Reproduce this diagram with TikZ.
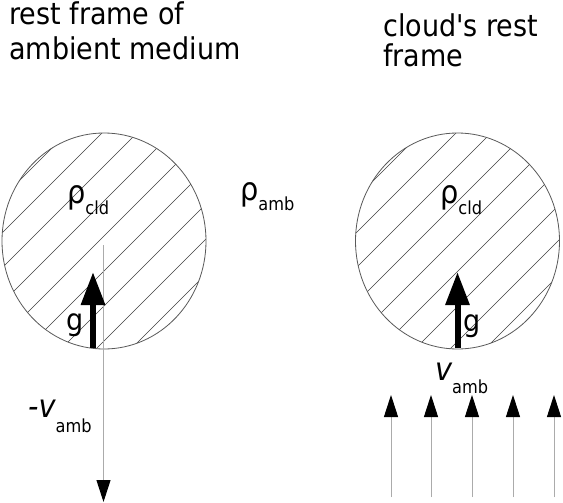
\documentclass[tikz,border=0pt]{standalone}
\usepackage{fontspec}
\setmainfont{DejaVu Sans}[FakeStretch=0.9, Ligatures=TeXOff]
\usetikzlibrary{arrows.meta,shapes.geometric}
\newcommand\sublab[3]{{\fontsize{32}{32}\selectfont #1}\raisebox{-#3}{\fontsize{18}{18}\selectfont #2}}
\begin{document}
\begin{tikzpicture}[x=1pt,y=-1pt,
  title/.style={anchor=base west, inner sep=0, font=\fontsize{30}{35}\selectfont},
  lab/.style={anchor=base west, inner sep=0},
  cloudshape/.style={draw=black!65, line width=0.8pt, ellipse, minimum width=204pt, minimum height=216pt, inner sep=0},
  hatch/.style={draw=black!75, line width=0.6pt},
  gravity/.style={line width=6pt, -{Triangle[length=33pt 0 0, width=23pt 0 0]}},
  flow/.style={draw=black!33, line width=1pt, -{Triangle[length=22pt 0 0, width=14pt 0 0, color=black]}}
]
\useasboundingbox[fill=white] (0,0) rectangle (563,503);

% titles
\node[title] (tl1) at (9,25) {rest frame of};
\node[title] (tl2) at (9,60) {ambient medium};
\node[title] (tr1) at (383,37) {cloud's rest};
\node[title] (tr2) at (383,67) {frame};

% clouds with hatching
\begin{scope}
  \clip (104,241) ellipse [x radius=102, y radius=108];
  \foreach \c in {200,235,...,480} \draw[hatch] (\c-100,100) -- (\c-400,400);
\end{scope}
\begin{scope}
  \clip (457.5,241) ellipse [x radius=102, y radius=108];
  \foreach \c in {554,589,...,834} \draw[hatch] (\c-100,100) -- (\c-400,400);
\end{scope}
\node[cloudshape] (cloudL) at (104,241) {};
\node[cloudshape] (cloudR) at (457.5,241) {};

% density labels
\node[lab] (rhoL) at (67,203) {\sublab{ρ}{cld}{12pt}};
\node[lab] (rhoR) at (440,203) {\sublab{ρ}{cld}{12pt}};
\node[lab] (rhoA) at (240,200) {\sublab{ρ}{amb}{10pt}};

% left frame: ambient velocity downward
\coordinate (vLs) at (103.5,245);
\coordinate (vLe) at (103.5,502);
\draw[flow] (vLs) -- (vLe);
\node[lab] (vL) at (28,417) {\sublab{\itshape -v}{amb}{15pt}};

% gravity arrows
\coordinate (gLs) at (93,348);
\coordinate (gLe) at (93,272);
\draw[gravity] (gLs) -- (gLe);
\node[lab, font=\fontsize{30}{30}\selectfont] (gL) at (66,330) {g};
\coordinate (gRs) at (457.5,348);
\coordinate (gRe) at (457.5,272);
\draw[gravity] (gRs) -- (gRe);
\node[lab, font=\fontsize{30}{30}\selectfont] (gR) at (463,331) {g};

% right frame: ambient flow upward
\foreach \i/\x in {1/391,2/431,3/472,4/513,5/554} {
  \coordinate (f\i s) at (\x,497);
  \coordinate (f\i e) at (\x,395);
  \draw[flow] (f\i s) -- (f\i e);
}
\node[lab] (vR) at (435,380) {\sublab{\itshape v}{amb}{13pt}};
\end{tikzpicture}
\end{document}
